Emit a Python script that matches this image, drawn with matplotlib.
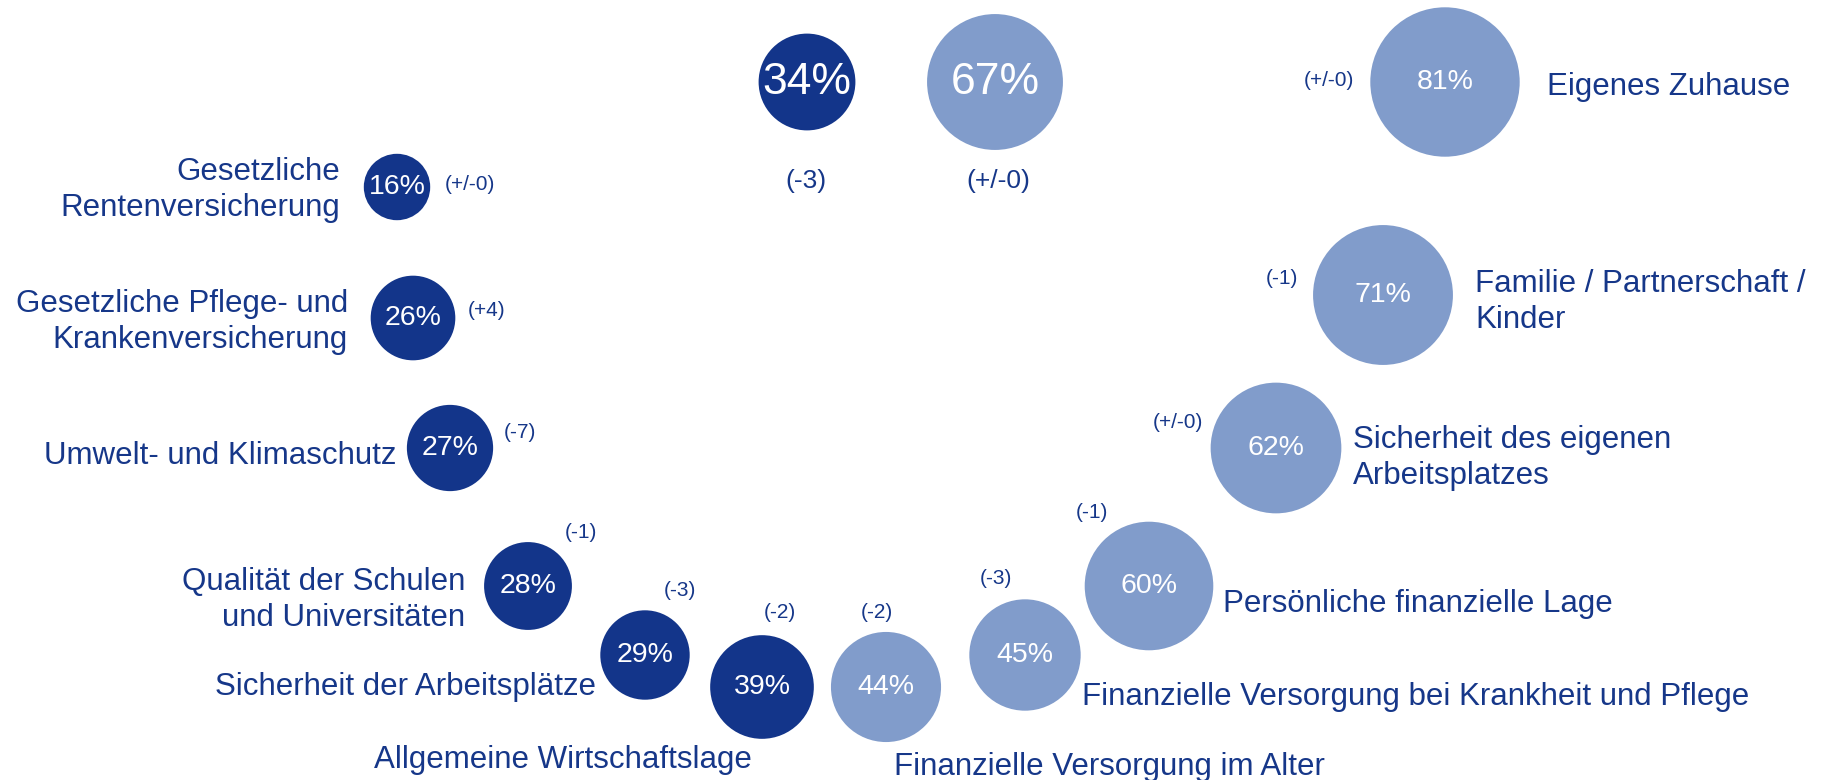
import matplotlib
matplotlib.use("Agg")
import matplotlib.pyplot as plt
from matplotlib.patches import Circle
import numpy as np

plt.rcParams['font.family'] = ['Liberation Sans', 'DejaVu Sans']

# ---------------- data ----------------
dark_categories = ["Gesetzliche\nRentenversicherung",
                   "Gesetzliche Pflege- und\nKrankenversicherung",
                   "Umwelt- und Klimaschutz",
                   "Qualität der Schulen\nund Universitäten",
                   "Sicherheit der Arbeitsplätze",
                   "Allgemeine Wirtschaftslage"]
dark_values = [16, 26, 27, 28, 29, 39]
dark_changes = ["(+/-0)", "(+4)", "(-7)", "(-1)", "(-3)", "(-2)"]

light_categories = ["Finanzielle Versorgung im Alter",
                    "Finanzielle Versorgung bei Krankheit und Pflege",
                    "Persönliche finanzielle Lage",
                    "Sicherheit des eigenen\nArbeitsplatzes",
                    "Familie / Partnerschaft /\nKinder",
                    "Eigenes Zuhause"]
light_values = [44, 45, 60, 62, 71, 81]
light_changes = ["(-2)", "(-3)", "(-1)", "(+/-0)", "(-1)", "(+/-0)"]

summary_values = [34, 67]
summary_changes = ["(-3)", "(+/-0)"]

# ---------------- layout (pixel canvas) ----------------
W, H = 1826, 780
K = 8.3  # radius scale: r = K * sqrt(value)

dark_pos = [(397, 187), (413, 318), (450, 448), (528, 586), (645, 655), (762, 687)]
dark_change_pos = [(470, 184), (487, 310), (520, 432), (581, 532), (680, 590), (780, 613)]
dark_label_pos = [(340, 190, 'right'), (348, 322, 'right'), (396, 456, 'right'),
                  (465, 600, 'right'), (596, 687, 'right'), (563, 760, 'center')]

light_pos = [(886, 687), (1025, 655), (1149, 586), (1276, 448), (1383, 295), (1445, 82)]
light_change_pos = [(877, 613), (996, 579), (1092, 512), (1178, 422), (1282, 279), (1329, 81)]
light_label_pos = [(894, 767, 'left'), (1082, 697, 'left'), (1223, 604, 'left'),
                   (1353, 458, 'left'), (1475, 302, 'left'), (1547, 87, 'left')]

summary_pos = [(807, 82), (995, 82)]
summary_change_pos = [(806, 181), (998, 181)]

DARK = "#13358A"
LIGHT = "#819CCB"
TEXT = "#163789"

LABEL_FS = 22.5
PCT_FS = 20.5
CHANGE_FS = 15
BIG_PCT_FS = 32
BIG_CHANGE_FS = 19

fig = plt.figure(figsize=(W / 100, H / 100), dpi=100)
ax = fig.add_axes([0, 0, 1, 1])
ax.set_xlim(0, W)
ax.set_ylim(H, 0)
ax.set_aspect('equal')
ax.axis('off')


def bubble(xy, v, color, fs):
    ax.add_patch(Circle(xy, K * np.sqrt(v), facecolor=color, edgecolor='none'))
    ax.text(xy[0], xy[1], f"{v}%", color='white', fontsize=fs,
            ha='center', va='center')


for cat, v, ch, p, cp, lp in zip(dark_categories, dark_values, dark_changes,
                                 dark_pos, dark_change_pos, dark_label_pos):
    bubble(p, v, DARK, PCT_FS)
    ax.text(cp[0], cp[1], ch, color=TEXT, fontsize=CHANGE_FS, ha='center', va='center')
    ax.text(lp[0], lp[1], cat, color=TEXT, fontsize=LABEL_FS, ha=lp[2], va='center',
            multialignment=lp[2], linespacing=1.22)

for cat, v, ch, p, cp, lp in zip(light_categories, light_values, light_changes,
                                 light_pos, light_change_pos, light_label_pos):
    bubble(p, v, LIGHT, PCT_FS)
    ax.text(cp[0], cp[1], ch, color=TEXT, fontsize=CHANGE_FS, ha='center', va='center')
    ax.text(lp[0], lp[1], cat, color=TEXT, fontsize=LABEL_FS, ha=lp[2], va='center',
            multialignment='left', linespacing=1.22)

for v, ch, p, cp, col in zip(summary_values, summary_changes, summary_pos,
                             summary_change_pos, [DARK, LIGHT]):
    bubble(p, v, col, BIG_PCT_FS)
    ax.text(cp[0], cp[1], ch, color=TEXT, fontsize=BIG_CHANGE_FS, ha='center', va='center')

fig.savefig("out.png", dpi=100, facecolor='white')
